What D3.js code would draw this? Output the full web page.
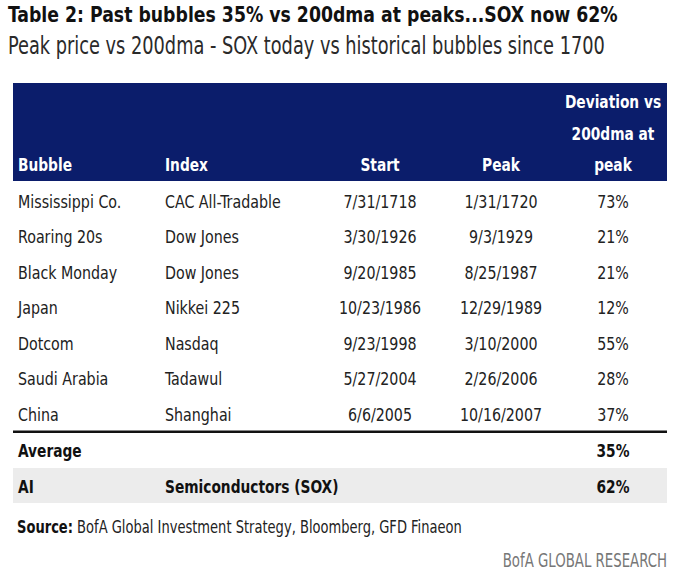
<!DOCTYPE html>
<html>
<head>
<meta charset="utf-8">
<script src="https://cdn.jsdelivr.net/npm/d3@7"></script>
<style>
  body { margin: 0; background: #fff; }
  text { font-family: "DejaVu Sans Condensed", "Liberation Sans Narrow", sans-serif; }
</style>
</head>
<body>
<script>
// table data
var bubbles = ["Mississippi Co.", "Roaring 20s", "Black Monday", "Japan", "Dotcom", "Saudi Arabia", "China"];
var indices = ["CAC All-Tradable", "Dow Jones", "Dow Jones", "Nikkei 225", "Nasdaq", "Tadawul", "Shanghai"];
var starts = ["7/31/1718", "3/30/1926", "9/20/1985", "10/23/1986", "9/23/1998", "5/27/2004", "6/6/2005"];
var peaks = ["1/31/1720", "9/3/1929", "8/25/1987", "12/29/1989", "3/10/2000", "2/26/2006", "10/16/2007"];
var deviations = [73, 21, 21, 12, 55, 28, 37];
var average = 35;
var aiRow = ["AI", "Semiconductors (SOX)", 62];
var columns = ["Bubble", "Index", "Start", "Peak", "Deviation"];
var headerLines = ["Deviation vs", "200dma at", "peak"];

var w = 680, h = 578;
var navy = "#0b1d6b", ink = "#222";

var svg = d3.select("body").append("svg")
    .attr("width", w)
    .attr("height", h);

// the original face is a narrow grotesque, squeeze the condensed dejavu a bit more
function put(sel, x, y, sx) {
    return sel.attr("transform", "translate(" + x + "," + y + ") scale(" + sx + ",1)");
}

// title + subtitle
put(svg.append("text"), 8, 22, 0.916)
    .attr("font-size", 21).attr("font-weight", "bold").attr("fill", "#111")
    .text("Table 2: Past bubbles 35% vs 200dma at peaks...SOX now 62%");
put(svg.append("text"), 8, 54, 0.79)
    .attr("font-size", 25).attr("fill", "#2a2a2a")
    .text("Peak price vs 200dma - SOX today vs historical bubbles since 1700");

// column positions, anchor per column
var colX = d3.scaleOrdinal().domain(columns).range([18, 165, 380, 501, 613]);
var colAnchor = d3.scaleOrdinal().domain(columns).range(["start", "start", "middle", "middle", "middle"]);

var rows = d3.scaleBand().domain(d3.range(bubbles.length)).range([183.25, 431.75]);

// header band
svg.append("rect")
    .attr("x", 13).attr("y", 83)
    .attr("width", 654).attr("height", 98)
    .attr("fill", navy);

var head = svg.append("g").attr("fill", "#fff").attr("font-size", 17).attr("font-weight", "bold");
columns.slice(0, 4).forEach(function (c) {
    put(head.append("text"), colX(c), 171, 0.9)
        .attr("text-anchor", colAnchor(c))
        .text(c);
});
headerLines.forEach(function (t, i) {
    put(head.append("text"), colX("Deviation"), 108 + i * 31.5, 0.9)
        .attr("text-anchor", "middle")
        .text(t);
});

// body rows
var body = svg.append("g").attr("fill", ink).attr("font-size", 18);
var table = bubbles.map(function (b, i) {
    return [b, indices[i], starts[i], peaks[i], deviations[i] + "%"];
});
body.selectAll("g.row").data(table).enter().append("g")
    .attr("class", "row")
    .attr("transform", function (d, i) { return "translate(0," + (rows(i) + rows.bandwidth() / 2 + 6.5) + ")"; })
    .selectAll("text").data(function (d) { return d; }).enter().append("text")
    .attr("transform", function (d, j) { return "translate(" + colX(columns[j]) + ",0) scale(0.88,1)"; })
    .attr("text-anchor", function (d, j) { return colAnchor(columns[j]); })
    .text(function (d) { return d; });

// rule under the last bubble
svg.append("line")
    .attr("x1", 13).attr("x2", 667)
    .attr("y1", rows.range()[1]).attr("y2", rows.range()[1])
    .attr("stroke", "#111").attr("stroke-width", 2.5);

// AI row sits on a grey band
svg.append("rect")
    .attr("x", 13).attr("y", 468)
    .attr("width", 654).attr("height", 35)
    .attr("fill", "#ececec");

// average + AI rows
var foot = svg.append("g").attr("fill", "#111").attr("font-size", 17).attr("font-weight", "bold");
put(foot.append("text"), colX("Bubble"), 457, 0.9).text("Average");
put(foot.append("text"), colX("Deviation"), 457, 0.9).attr("text-anchor", "middle").text(average + "%");
put(foot.append("text"), colX("Bubble"), 493, 0.9).text(aiRow[0]);
put(foot.append("text"), colX("Index"), 493, 0.9).text(aiRow[1]);
put(foot.append("text"), colX("Deviation"), 493, 0.9).attr("text-anchor", "middle").text(aiRow[2] + "%");

// source + brand
var src = put(svg.append("text"), 17, 533, 0.855).attr("font-size", 17).attr("fill", "#222");
src.append("tspan").attr("font-weight", "bold").attr("fill", "#111").text("Source:");
src.append("tspan").text(" BofA Global Investment Strategy, Bloomberg, GFD Finaeon");

put(svg.append("text"), 667, 567, 0.78)
    .attr("text-anchor", "end")
    .attr("font-size", 19).attr("fill", "#777")
    .text("BofA GLOBAL RESEARCH");
</script>
</body>
</html>
